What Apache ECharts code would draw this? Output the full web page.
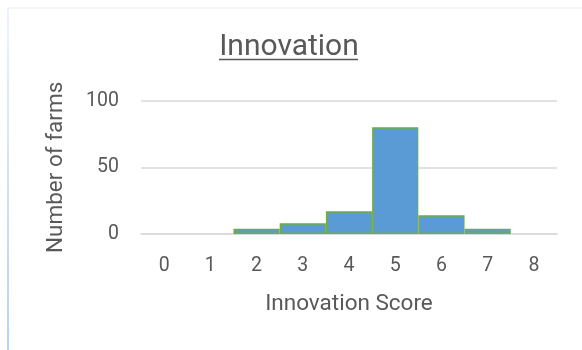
<!DOCTYPE html>
<html>
<head>
<meta charset="utf-8">
<script src="https://cdn.jsdelivr.net/npm/echarts@6/dist/echarts.min.js"></script>
<style>
  html, body { margin: 0; padding: 0; background: #fff; }
  #chart { width: 582px; height: 350px; }
</style>
</head>
<body>
<div id="chart"></div>
<script>
// scores on the x axis and how many farms got each
var scores = ["0", "1", "2", "3", "4", "5", "6", "7", "8"];
var farms = [0, 0, 4, 8, 17, 80, 14, 4, 0];
var yTicks = [0, 50, 100];

var chart = echarts.init(document.getElementById("chart"));
var txt = "#595959";
var font = "Roboto";

// empty bins get no outline, like in excel
var barData = farms.map(function (v) {
  return v > 0 ? v : { value: v, itemStyle: { borderWidth: 0 } };
});

var option = {
  animation: false,
  textStyle: { fontFamily: font },
  title: {
    text: "Innovation",
    left: 284,
    top: 27,
    textAlign: "center",
    textStyle: { fontFamily: font, fontSize: 30, fontWeight: "normal", color: txt }
  },
  graphic: [
    // underline of the title
    { type: "line", shape: { x1: 219, y1: 59.5, x2: 358, y2: 59.5 }, style: { stroke: txt, lineWidth: 1.5 } },
    // faint frame on the left and top
    { type: "line", shape: { x1: 8, y1: 8, x2: 582, y2: 8 }, style: { stroke: "#f0f4f9", lineWidth: 1.5 } },
    {
      type: "line", shape: { x1: 8, y1: 8, x2: 8, y2: 350 },
      style: {
        lineWidth: 2,
        stroke: new echarts.graphic.LinearGradient(0, 0, 0, 1, [
          { offset: 0, color: "#eef3fa" },
          { offset: 1, color: "#b7d1ec" }
        ])
      }
    }
  ],
  grid: { left: 141, right: 25, top: 100.7, bottom: 116 },
  xAxis: {
    type: "category",
    data: scores,
    name: "Innovation Score",
    nameLocation: "middle",
    nameGap: 59,
    nameTextStyle: { fontFamily: font, fontSize: 22.5, color: txt },
    axisLine: { lineStyle: { color: "#d9d9d9", width: 1.5 } },
    axisTick: { show: false },
    axisLabel: { fontFamily: font, fontSize: 19.5, color: txt, margin: 22 }
  },
  yAxis: {
    type: "value",
    min: yTicks[0],
    max: yTicks[yTicks.length - 1],
    interval: 50,
    name: "Number of farms",
    nameLocation: "middle",
    nameGap: 73,
    nameTextStyle: { fontFamily: font, fontSize: 22.5, color: txt },
    axisLine: { show: false },
    axisTick: { show: false },
    axisLabel: { fontFamily: font, fontSize: 19.5, color: txt, margin: 22 },
    splitLine: { lineStyle: { color: "#d9d9d9", width: 1.5 } }
  },
  series: [
    {
      type: "bar",
      data: barData,
      barWidth: "100%",
      itemStyle: { color: "#5b9bd5", borderColor: "#70ad47", borderWidth: 1.5 }
    }
  ]
};

chart.setOption(option);
</script>
</body>
</html>
